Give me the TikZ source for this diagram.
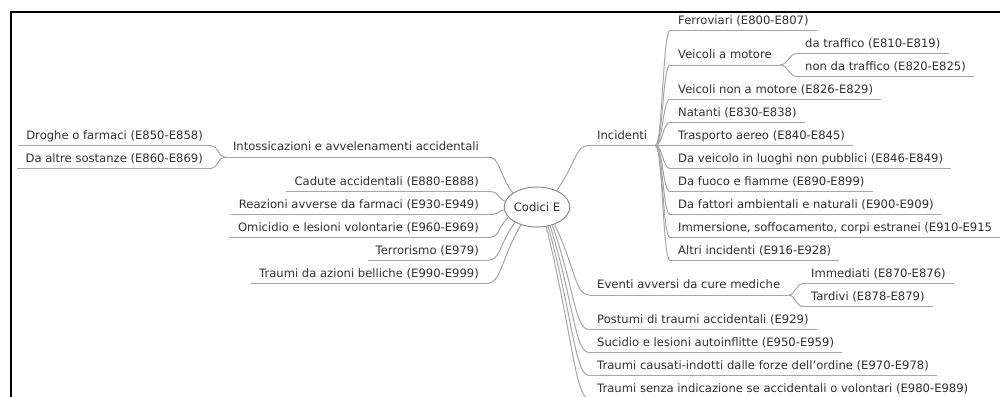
\documentclass[tikz,border=0pt]{standalone}
\usepackage{fontspec}
\setmainfont{DejaVu Sans}
\usetikzlibrary{shapes.geometric,calc}

\definecolor{wiregray}{HTML}{A6A6A6}
\definecolor{ringgray}{HTML}{8C8C8C}
\definecolor{textgray}{HTML}{303030}

\tikzset{
  wire/.style={draw=wiregray, line width=1},
  topic/.style={font=\fontsize{11.6}{13}\selectfont, text=textgray,
    inner xsep=8, inner ysep=3, text height=9, text depth=3,
    append after command={(\tikzlastnode.south west) edge[wire] (\tikzlastnode.south east)}},
  branch/.style={to path={.. controls ($(\tikztostart)!0.5!(\tikztostart -| \tikztotarget)$)
    and ($(\tikztotarget)!0.5!(\tikztotarget -| \tikztostart)$) .. (\tikztotarget)}},
  rootr/.style={to path={.. controls ($(\tikztostart)!0.6!(\tikztotarget)$)
    and ($(\tikztotarget)+(-14,0)$) .. (\tikztotarget)}},
  rootl/.style={to path={.. controls ($(\tikztostart)!0.6!(\tikztotarget)$)
    and ($(\tikztotarget)+(14,0)$) .. (\tikztotarget)}},
}

\begin{document}
\begin{tikzpicture}[x=1pt, y=-1pt]
    \useasboundingbox (0,0) rectangle (1000,396);
    \clip (0,0) rectangle (1000,396);
    \draw[line width=2.5] (11,400) -- (11,12) -- (1004,12);

    % Nodes
    \node[ellipse, draw=ringgray, line width=1, minimum width=64, minimum height=40, inner sep=0,
      font=\fontsize{11.6}{13}\selectfont, text=textgray] (codici) at (537,207) {Codici E};

    \node[topic, anchor=south west] (incid) at (589,145.5) {Incidenti};
    \node[topic, anchor=south west] (ferro) at (670,30.5) {Ferroviari (E800-E807)};
    \node[topic, anchor=south west] (veicmot) at (670,65) {Veicoli a motore};
    \node[topic, anchor=south west] (traff) at (797,53.5) {da traffico (E810-E819)};
    \node[topic, anchor=south west] (nontraff) at (797,76.5) {non da traffico (E820-E825)};
    \node[topic, anchor=south west] (veicnon) at (670,99.5) {Veicoli non a motore (E826-E829)};
    \node[topic, anchor=south west] (natanti) at (670,122.5) {Natanti (E830-E838)};
    \node[topic, anchor=south west] (aereo) at (670,145.5) {Trasporto aereo (E840-E845)};
    \node[topic, anchor=south west] (luoghi) at (670,168.5) {Da veicolo in luoghi non pubblici (E846-E849)};
    \node[topic, anchor=south west] (fuoco) at (670,191.5) {Da fuoco e fiamme (E890-E899)};
    \node[topic, anchor=south west] (fattori) at (670,214.5) {Da fattori ambientali e naturali (E900-E909)};
    \node[topic, anchor=south west] (immers) at (670,237.5) {Immersione, soffocamento, corpi estranei (E910-E915};
    \node[topic, anchor=south west] (altri) at (670,260.5) {Altri incidenti (E916-E928)};

    \node[topic, anchor=south west] (eventi) at (589,295) {Eventi avversi da cure mediche};
    \node[topic, anchor=south west] (immed) at (803,283.5) {Immediati (E870-E876)};
    \node[topic, anchor=south west] (tardivi) at (803,306.5) {Tardivi (E878-E879)};
    \node[topic, anchor=south west] (postumi) at (589,329.5) {Postumi di traumi accidentali (E929)};
    \node[topic, anchor=south west] (suicidio) at (589,352.5) {Sucidio e lesioni autoinflitte (E950-E959)};
    \node[topic, anchor=south west] (ordine) at (589,375.5) {Traumi causati-indotti dalle forze dell'ordine (E970-E978)};
    \node[topic, anchor=south west] (senza) at (589,398.5) {Traumi senza indicazione se accidentali o volontari (E980-E989)};

    \node[topic, anchor=south east] (intox) at (487,157) {Intossicazioni e avvelenamenti accidentali};
    \node[topic, anchor=south east] (droghe) at (211,145.5) {Droghe o farmaci (E850-E858)};
    \node[topic, anchor=south east] (sostanze) at (211,168.5) {Da altre sostanze (E860-E869)};
    \node[topic, anchor=south east] (cadute) at (487,191.5) {Cadute accidentali (E880-E888)};
    \node[topic, anchor=south east] (reazioni) at (487,214.5) {Reazioni avverse da farmaci (E930-E949)};
    \node[topic, anchor=south east] (omicidio) at (487,237.5) {Omicidio e lesioni volontarie (E960-E969)};
    \node[topic, anchor=south east] (terror) at (487,260.5) {Terrorismo (E979)};
    \node[topic, anchor=south east] (belliche) at (487,283.5) {Traumi da azioni belliche (E990-E999)};

    % Branches
    \draw[wire] (codici.40) to[rootr] (incid.south west);
    \draw[wire] (codici.-45) to[rootr] (eventi.south west);
    \draw[wire] (codici.-50) to[rootr] (postumi.south west);
    \draw[wire] (codici.-55) to[rootr] (suicidio.south west);
    \draw[wire] (codici.-60) to[rootr] (ordine.south west);
    \draw[wire] (codici.-65) to[rootr] (senza.south west);

    \draw[wire] (codici.150) to[rootl] (intox.south east);
    \draw[wire] (codici.170) to[rootl] (cadute.south east);
    \draw[wire] (codici.185) to[rootl] (reazioni.south east);
    \draw[wire] (codici.200) to[rootl] (omicidio.south east);
    \draw[wire] (codici.215) to[rootl] (terror.south east);
    \draw[wire] (codici.228) to[rootl] (belliche.south east);

    \foreach \n in {ferro,veicmot,veicnon,natanti,aereo,luoghi,fuoco,fattori,immers,altri}
      \draw[wire] (incid.south east) to[branch] (\n.south west);
    \draw[wire] (veicmot.south east) to[branch] (traff.south west);
    \draw[wire] (veicmot.south east) to[branch] (nontraff.south west);
    \draw[wire] (eventi.south east) to[branch] (immed.south west);
    \draw[wire] (eventi.south east) to[branch] (tardivi.south west);
    \draw[wire] (intox.south west) to[branch] (droghe.south east);
    \draw[wire] (intox.south west) to[branch] (sostanze.south east);
\end{tikzpicture}
\end{document}
